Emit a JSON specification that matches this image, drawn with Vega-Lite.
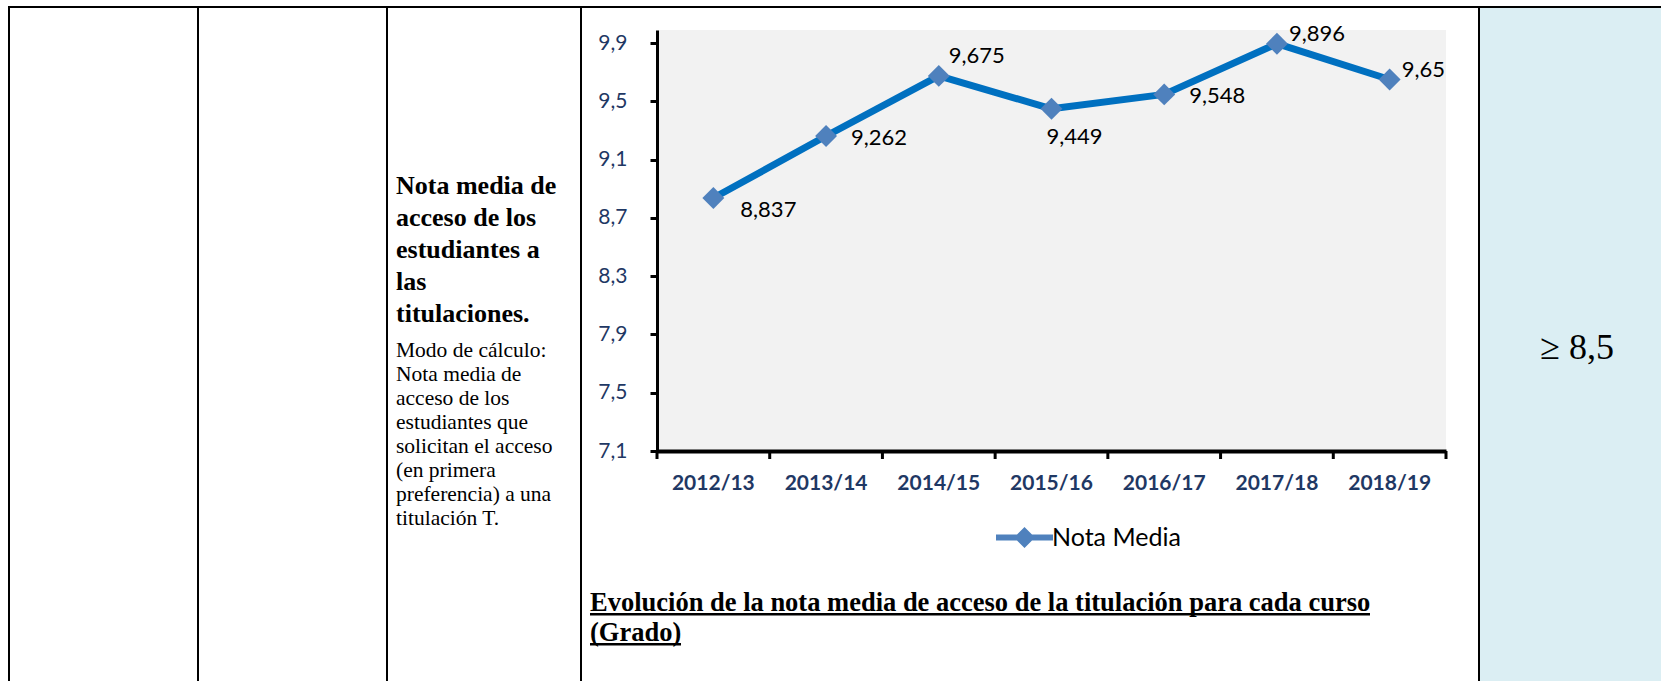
{
  "$schema": "https://vega.github.io/schema/vega-lite/v6.json",
  "width": 789,
  "height": 421,
  "autosize": {"type": "none"},
  "padding": {"left": 657, "top": 30, "right": 215, "bottom": 230},
  "background": "white",
  "datasets": {
    "notas": [
      {"curso": "2012/13", "nota": 8.837},
      {"curso": "2013/14", "nota": 9.262},
      {"curso": "2014/15", "nota": 9.675},
      {"curso": "2015/16", "nota": 9.449},
      {"curso": "2016/17", "nota": 9.548},
      {"curso": "2017/18", "nota": 9.896},
      {"curso": "2018/19", "nota": 9.65}
    ],
    "indicador": [
      {
        "titulo": "Nota media de\nacceso de los\nestudiantes a\nlas\ntitulaciones.",
        "calculo": "Modo de cálculo:\nNota media de\nacceso de los\nestudiantes que\nsolicitan el acceso\n(en primera\npreferencia) a una\ntitulación T.",
        "grafico": "Evolución de la nota media de acceso de la titulación para cada curso\n(Grado)",
        "umbral": "≥ 8,5"
      }
    ]
  },
  "config": {
    "locale": {"number": {"decimal": ",", "thousands": ".", "grouping": [3], "currency": ["", " €"]}},
    "view": {"fill": "#F2F2F2", "stroke": null},
    "axisX": {
      "labelAngle": 0, "ticks": false, "grid": false,
      "labelFont": "Lato", "labelFontWeight": "bold", "labelFontSize": 21,
      "labelColor": "#1F3864", "labelPadding": 21,
      "domainColor": "black", "domainWidth": 4
    },
    "axisY": {
      "grid": false, "ticks": true, "tickSize": 7, "tickWidth": 3, "tickColor": "black",
      "domainColor": "black", "domainWidth": 3,
      "labelFont": "Lato", "labelFontSize": 21, "labelColor": "#1F3864", "labelPadding": 23
    }
  },
  "layer": [
    {"data": {"name": "indicador"}, "mark": {"type": "rect", "x": 823, "x2": 1004, "y": -22, "y2": 651, "fill": "#DBEEF3"}, "encoding": {}},
    {"data": {"name": "indicador"}, "mark": {"type": "rect", "x": -649, "x2": 1004, "y": -24, "y2": -22, "fill": "black"}, "encoding": {}},
    {"data": {"name": "indicador"}, "mark": {"type": "rect", "x": -649, "x2": -647, "y": -24, "y2": 651, "fill": "black"}, "encoding": {}},
    {"data": {"name": "indicador"}, "mark": {"type": "rect", "x": -460, "x2": -458, "y": -24, "y2": 651, "fill": "black"}, "encoding": {}},
    {"data": {"name": "indicador"}, "mark": {"type": "rect", "x": -271, "x2": -269, "y": -24, "y2": 651, "fill": "black"}, "encoding": {}},
    {"data": {"name": "indicador"}, "mark": {"type": "rect", "x": -77, "x2": -75, "y": -24, "y2": 651, "fill": "black"}, "encoding": {}},
    {"data": {"name": "indicador"}, "mark": {"type": "rect", "x": 821, "x2": 823, "y": -24, "y2": 651, "fill": "black"}, "encoding": {}},
    {"data": {"name": "indicador"}, "mark": {"type": "text", "x": -261, "y": 143, "align": "left", "baseline": "top", "lineBreak": "\n", "lineHeight": 32, "font": "Liberation Serif", "fontWeight": "bold", "fontSize": 26, "color": "black"}, "encoding": {"text": {"field": "titulo"}}},
    {"data": {"name": "indicador"}, "mark": {"type": "text", "x": -261, "y": 310, "align": "left", "baseline": "top", "lineBreak": "\n", "lineHeight": 24, "font": "Liberation Serif", "fontSize": 21.5, "color": "black"}, "encoding": {"text": {"field": "calculo"}}},
    {"data": {"name": "indicador"}, "mark": {"type": "text", "x": -67, "y": 560, "align": "left", "baseline": "top", "lineBreak": "\n", "lineHeight": 30, "font": "Liberation Serif", "fontWeight": "bold", "fontSize": 26.5, "color": "black"}, "encoding": {"text": {"field": "grafico"}}},
    {"data": {"name": "indicador"}, "mark": {"type": "rect", "x": -67, "x2": 713, "y": 583, "y2": 585.5, "fill": "black"}, "encoding": {}},
    {"data": {"name": "indicador"}, "mark": {"type": "rect", "x": -67, "x2": 24, "y": 613, "y2": 615.5, "fill": "black"}, "encoding": {}},
    {"data": {"name": "indicador"}, "mark": {"type": "text", "x": 920, "y": 318, "align": "center", "baseline": "middle", "font": "Liberation Serif", "fontSize": 36, "color": "black"}, "encoding": {"text": {"field": "umbral"}}},
    {
      "data": {"name": "notas"},
      "mark": {"type": "rule", "color": "black", "strokeWidth": 3, "y2Offset": 8},
      "encoding": {
        "x": {"field": "curso", "type": "nominal", "sort": null, "bandPosition": 0, "title": null, "scale": {"type": "band", "paddingInner": 0, "paddingOuter": 0}},
        "y": {"datum": 7.1},
        "y2": {"datum": 7.1}
      }
    },
    {
      "data": {"name": "notas"},
      "transform": [{"filter": "datum.curso == '2018/19'"}],
      "mark": {"type": "rule", "color": "black", "strokeWidth": 3, "y2Offset": 8},
      "encoding": {
        "x": {"field": "curso", "type": "nominal", "sort": null, "bandPosition": 1, "title": null},
        "y": {"datum": 7.1},
        "y2": {"datum": 7.1}
      }
    },
    {
      "data": {"name": "notas"},
      "mark": {"type": "line", "color": "#0070C0", "strokeWidth": 7, "strokeJoin": "round", "strokeCap": "round"},
      "encoding": {
        "x": {"field": "curso", "type": "nominal", "sort": null, "title": null, "scale": {"type": "band", "paddingInner": 0, "paddingOuter": 0}},
        "y": {"field": "nota", "type": "quantitative", "title": null, "scale": {"domain": [7.1, 9.99], "nice": false, "zero": false}, "axis": {"values": [7.1, 7.5, 7.9, 8.3, 8.7, 9.1, 9.5, 9.9], "format": ".1f"}}
      }
    },
    {
      "data": {"name": "notas"},
      "mark": {"type": "point", "shape": "diamond", "filled": true, "size": 480, "opacity": 1},
      "encoding": {
        "x": {"field": "curso", "type": "nominal", "sort": null, "title": null},
        "y": {"field": "nota", "type": "quantitative", "title": null},
        "color": {
          "datum": "Nota Media",
          "scale": {"range": ["#4F81BD"]},
          "legend": {
            "orient": "none", "legendX": 355, "legendY": 495, "title": null, "padding": 0,
            "symbolType": "M-2.85,-0.3L-0.75,-0.3L0,-1.05L0.75,-0.3L2.85,-0.3L2.85,0.3L0.75,0.3L0,1.05L-0.75,0.3L-2.85,0.3Z",
            "symbolSize": 400, "symbolFillColor": "#0070C0", "symbolStrokeWidth": 0,
            "labelFont": "Lato", "labelFontSize": 25, "labelColor": "black", "labelOffset": 15,
            "encode": {"symbols": {"update": {
              "fill": {"value": "#0070C0"},
              "strokeWidth": {"value": 0},
              "shape": {"value": "M-2.85,-0.3L-0.75,-0.3L0,-1.05L0.75,-0.3L2.85,-0.3L2.85,0.3L0.75,0.3L0,1.05L-0.75,0.3L-2.85,0.3Z"}
            }}}
          }
        }
      }
    },
    {
      "data": {"name": "notas"},
      "transform": [{"filter": "datum.curso == '2012/13'"}],
      "mark": {"type": "text", "align": "left", "baseline": "middle", "dx": 27, "dy": 12, "font": "Lato", "fontSize": 22, "color": "black"},
      "encoding": {"x": {"field": "curso", "type": "nominal", "sort": null}, "y": {"field": "nota", "type": "quantitative"}, "text": {"field": "nota", "format": ".3~f"}}
    },
    {
      "data": {"name": "notas"},
      "transform": [{"filter": {"field": "curso", "oneOf": ["2013/14", "2016/17"]}}],
      "mark": {"type": "text", "align": "left", "baseline": "middle", "dx": 25, "dy": 2, "font": "Lato", "fontSize": 22, "color": "black"},
      "encoding": {"x": {"field": "curso", "type": "nominal", "sort": null}, "y": {"field": "nota", "type": "quantitative"}, "text": {"field": "nota", "format": ".3~f"}}
    },
    {
      "data": {"name": "notas"},
      "transform": [{"filter": "datum.curso == '2014/15'"}],
      "mark": {"type": "text", "align": "left", "baseline": "middle", "dx": 10, "dy": -20, "font": "Lato", "fontSize": 22, "color": "black"},
      "encoding": {"x": {"field": "curso", "type": "nominal", "sort": null}, "y": {"field": "nota", "type": "quantitative"}, "text": {"field": "nota", "format": ".3~f"}}
    },
    {
      "data": {"name": "notas"},
      "transform": [{"filter": {"field": "curso", "oneOf": ["2017/18", "2018/19"]}}],
      "mark": {"type": "text", "align": "left", "baseline": "middle", "dx": 12, "dy": -10, "font": "Lato", "fontSize": 22, "color": "black"},
      "encoding": {"x": {"field": "curso", "type": "nominal", "sort": null}, "y": {"field": "nota", "type": "quantitative"}, "text": {"field": "nota", "format": ".3~f"}}
    },
    {
      "data": {"name": "notas"},
      "transform": [{"filter": "datum.curso == '2015/16'"}],
      "mark": {"type": "text", "align": "left", "baseline": "middle", "dx": -5, "dy": 28, "font": "Lato", "fontSize": 22, "color": "black"},
      "encoding": {"x": {"field": "curso", "type": "nominal", "sort": null}, "y": {"field": "nota", "type": "quantitative"}, "text": {"field": "nota", "format": ".3~f"}}
    }
  ]
}
